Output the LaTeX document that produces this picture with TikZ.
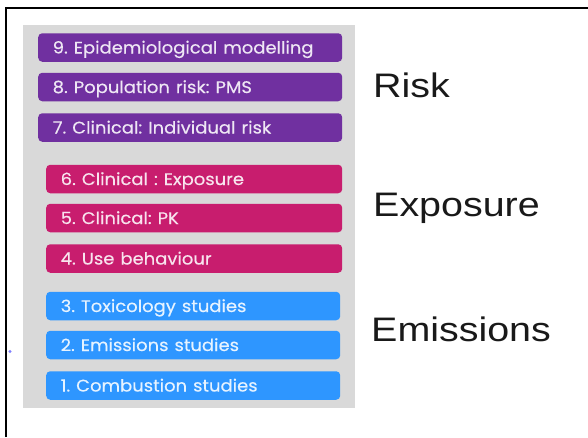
\documentclass[tikz,border=0pt]{standalone}
\usepackage{fontspec}
\setmainfont{Liberation Sans}
\newfontfamily\boxfont{Poppins}[FakeBold=0.35, WordSpace=0.8]
\usetikzlibrary{positioning}
\definecolor{panelgray}{HTML}{D9D9D9}
\definecolor{riskpurple}{HTML}{7030A0}
\definecolor{exppink}{HTML}{C81D6E}
\definecolor{emiblue}{HTML}{2E96FF}
\definecolor{dotblue}{HTML}{7F7FFF}
\frenchspacing
\tikzset{
  stage/.style={rounded corners=4pt, inner xsep=14.5pt, inner ysep=0pt,
    minimum height=28.5pt, text width=#1, align=left,
    text height=13pt, text depth=1pt,
    font=\boxfont\fontsize{16.8}{18}\selectfont, anchor=west},
  riskbox/.style={stage=275pt, fill=riskpurple, text=white!88!riskpurple},
  expbox/.style={stage=267pt, fill=exppink, text=white!88!exppink},
  emibox/.style={stage=265pt, fill=emiblue, text=white!88!emiblue},
  grouplabel/.style={anchor=base west, inner sep=0pt,
    font=\fontsize{34}{40}\selectfont, text=black!90}
}
\newcommand{\wide}[1]{\scalebox{1.07}[1]{#1}}
\newcommand{\widelabel}[1]{\scalebox{1.16}[1]{#1}}
\begin{document}
\begin{tikzpicture}[x=1pt, y=-1pt]
  \useasboundingbox (0,0) rectangle (588,437);
  % outer frame (left and top edges only)
  \draw[line width=1.8pt, black] (5.8,437) -- (5.8,8.2) -- (588,8.2);
  % grey panel behind the stack
  \fill[panelgray] (23,25) rectangle (355,408);
  % risk stages
  \node[riskbox] (s9) at (38,47.5) {\wide{9. Epidemiological modelling}};
  \node[riskbox] (s8) at (38,87) {\wide{8. Population risk: PMS}};
  \node[riskbox] (s7) at (38,127.5) {\wide{7. Clinical: Individual risk}};
  % exposure stages
  \node[expbox] (s6) at (46,179) {\wide{6. Clinical : Exposure}};
  \node[expbox] (s5) at (46,218) {\wide{5. Clinical: PK}};
  \node[expbox] (s4) at (46,258.5) {\wide{4. Use behaviour}};
  % emission stages
  \node[emibox] (s3) at (46,306) {\wide{3. Toxicology studies}};
  \node[emibox] (s2) at (46,345) {\wide{2. Emissions studies}};
  \node[emibox] (s1) at (46,385.5) {\wide{1. Combustion studies}};
  % group labels
  \node[grouplabel] (risk) at (373,97.3) {\widelabel{Risk}};
  \node[grouplabel] (exposure) at (373,216) {\widelabel{Exposure}};
  \node[grouplabel] (emissions) at (371,341.7) {\widelabel{Emissions}};
  % small marker at the left edge
  \fill[dotblue] (10,351.5) circle (1.6);
\end{tikzpicture}
\end{document}
